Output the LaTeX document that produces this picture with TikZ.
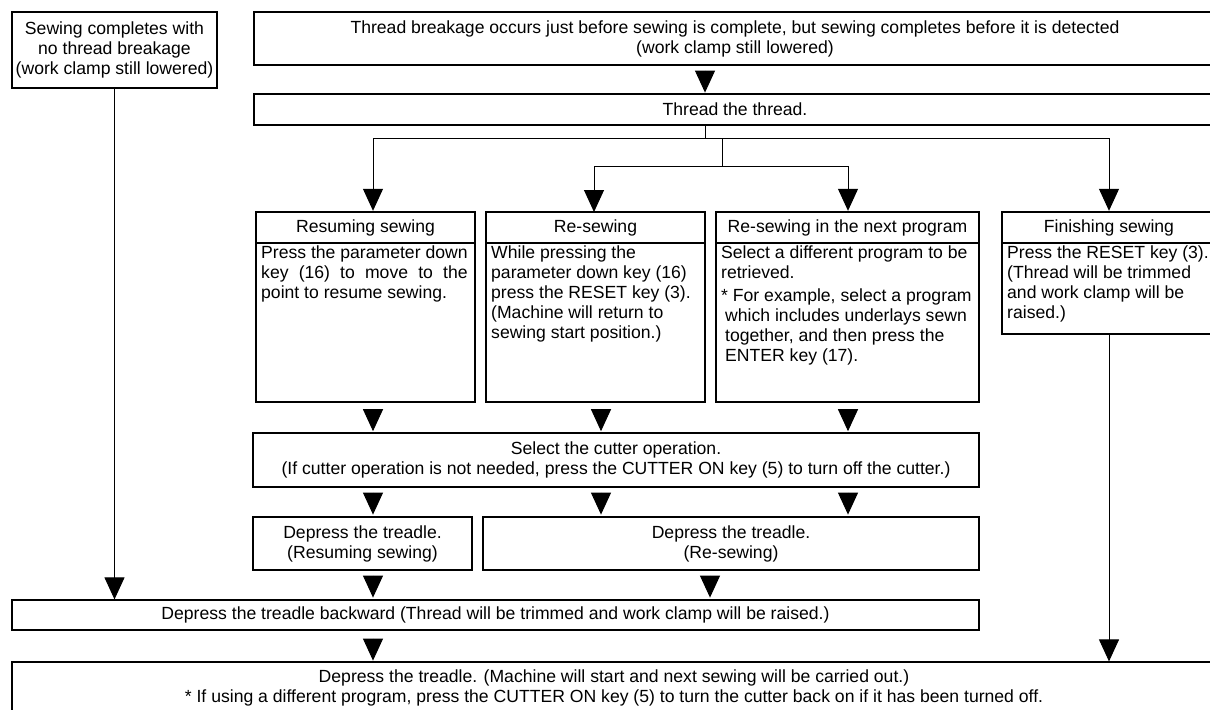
\documentclass[tikz,border=0pt]{standalone}
\usepackage{fontspec}
\setmainfont{Liberation Sans}
\usepackage{calc}
\usetikzlibrary{arrows.meta}

\newcommand{\boxfont}{\fontsize{8.8}{10}\selectfont}
\newcommand{\spreadto}[2]{\makebox[\widthof{#1}][s]{#2}}

\tikzset{
    process/.style = {
        rectangle, draw,
        line width=0.6pt,
        inner sep=0pt,
        align=center,
        font=\boxfont
    },
    stage/.style = {
        process,
        line width=1.2pt
    },
    note/.style = {
        anchor=north west,
        inner sep=0pt,
        align=left,
        font=\boxfont
    },
    arrow/.style = {
        -{Triangle[width=10pt,length=11pt]}, line width=0.5pt
    }
}

\begin{document}
\begin{tikzpicture}[x=0.5pt, y=-0.5pt]
\useasboundingbox (0,0) rectangle (1210,709);

\node (ok) [process, minimum width=102.5pt, minimum height=38pt] at (114.5,50) {Sewing completes with\\no thread breakage\\(work clamp still lowered)};
\node (brk) [process, minimum width=481pt, minimum height=26.5pt] at (735,38.5) {Thread breakage occurs just before sewing is complete, but sewing completes before it is detected\\(work clamp still lowered)};
\node (thr) [process, minimum width=481pt, minimum height=15.5pt] at (735,109.5) {Thread the thread.};

% the four ways to go on
\node (resH) [stage, minimum width=109.5pt, minimum height=15.5pt] at (365.5,227.5) {Resuming sewing};
\node (resB) [stage, minimum width=109.5pt, minimum height=79.5pt] at (365.5,322.5) {};
\node (resT) [note] at ([xshift=3pt, yshift=-2pt]resB.north west) {Press the parameter down\\\spreadto{Press the parameter down}{key (16) to move to the}\\point to resume sewing.};

\node (rsH) [stage, minimum width=109.5pt, minimum height=15.5pt] at (595.5,227.5) {Re-sewing};
\node (rsB) [stage, minimum width=109.5pt, minimum height=79.5pt] at (595.5,322.5) {};
\node (rsT) [note] at ([xshift=3pt, yshift=-2pt]rsB.north west) {While pressing the\\parameter down key (16)\\press the RESET key (3).\\(Machine will return to\\sewing start position.)};

\node (nxH) [stage, minimum width=131.5pt, minimum height=15.5pt] at (847.5,227.5) {Re-sewing in the next program};
\node (nxB) [stage, minimum width=131.5pt, minimum height=79.5pt] at (847.5,322.5) {};
\node (nxT) [note] at ([xshift=3pt, yshift=-2pt]nxB.north west) {Select a different program to be\\retrieved.\\[1.5pt]{*} For example, select a program\\\hspace*{2pt}which includes underlays sewn\\\hspace*{2pt}together, and then press the\\\hspace*{2pt}ENTER key (17).};

\node (finH) [stage, minimum width=107pt, minimum height=15.5pt] at (1109,227.5) {Finishing sewing};
\node (finB) [stage, minimum width=107pt, minimum height=45.5pt] at (1109,288.5) {};
\node (finT) [note] at ([xshift=3pt, yshift=-2pt]finB.north west) {Press the RESET key (3).\\(Thread will be trimmed\\and work clamp will be\\raised.)};

% lower part
\node (cut) [process, minimum width=363pt, minimum height=27pt] at (616,460) {Select the cutter operation.\\(If cutter operation is not needed, press the CUTTER ON key (5) to turn off the cutter.)};
\node (dp1) [process, minimum width=109.5pt, minimum height=26.5pt] at (362.5,543.5) {Depress the treadle.\\(Resuming sewing)};
\node (dp2) [process, minimum width=248pt, minimum height=26.5pt] at (731,543.5) {Depress the treadle.\\(Re-sewing)};
\node (back) [process, minimum width=483.5pt, minimum height=15pt] at (495.5,615) {Depress the treadle backward (Thread will be trimmed and work clamp will be raised.)};
\node (last) [process, minimum width=602pt, minimum height=25.5pt] at (614,687.5) {Depress the treadle. (Machine will start and next sewing will be carried out.)\\{*} If using a different program, press the CUTTER ON key (5) to turn the cutter back on if it has been turned off.};

\coordinate (j1) at (705,138);
\coordinate (j2) at (722,166);
\coordinate (c1) at (373,0);
\coordinate (c2) at (601,0);
\coordinate (c3) at (848,0);
\coordinate (c4) at (710,0);
\coordinate (a2) at (594,212);

\draw [arrow] (brk.south -| j1) ++(0,5) -- ++(0,22);
\draw (thr.south -| j1) -- (j1);
\draw [arrow] (j1) -| (resH.north -| c1);
\draw [arrow] (j1) -| (finH.north);
\draw (j1 -| j2) -- (j2);
\draw [arrow] (j2) -| (a2);
\draw [arrow] (j2) -| (nxH.north -| c3);

\draw [arrow] (resB.south -| c1) ++(0,6) -- ++(0,22);
\draw [arrow] (rsB.south -| c2) ++(0,6) -- ++(0,22);
\draw [arrow] (nxB.south -| c3) ++(0,6) -- ++(0,22);
\draw [arrow] (cut.south -| c1) ++(0,5) -- ++(0,22);
\draw [arrow] (cut.south -| c2) ++(0,5) -- ++(0,22);
\draw [arrow] (cut.south -| c3) ++(0,5) -- ++(0,22);
\draw [arrow] (dp1.south -| c1) ++(0,5) -- ++(0,22);
\draw [arrow] (dp2.south -| c4) ++(0,5) -- ++(0,22);
\draw [arrow] (back.south -| c1) ++(0,8) -- ++(0,22);
\draw [arrow] (ok.south) -- (ok.south |- back.north);
\draw [arrow] (finB.south) -- (finB.south |- last.north);

\end{tikzpicture}
\end{document}
